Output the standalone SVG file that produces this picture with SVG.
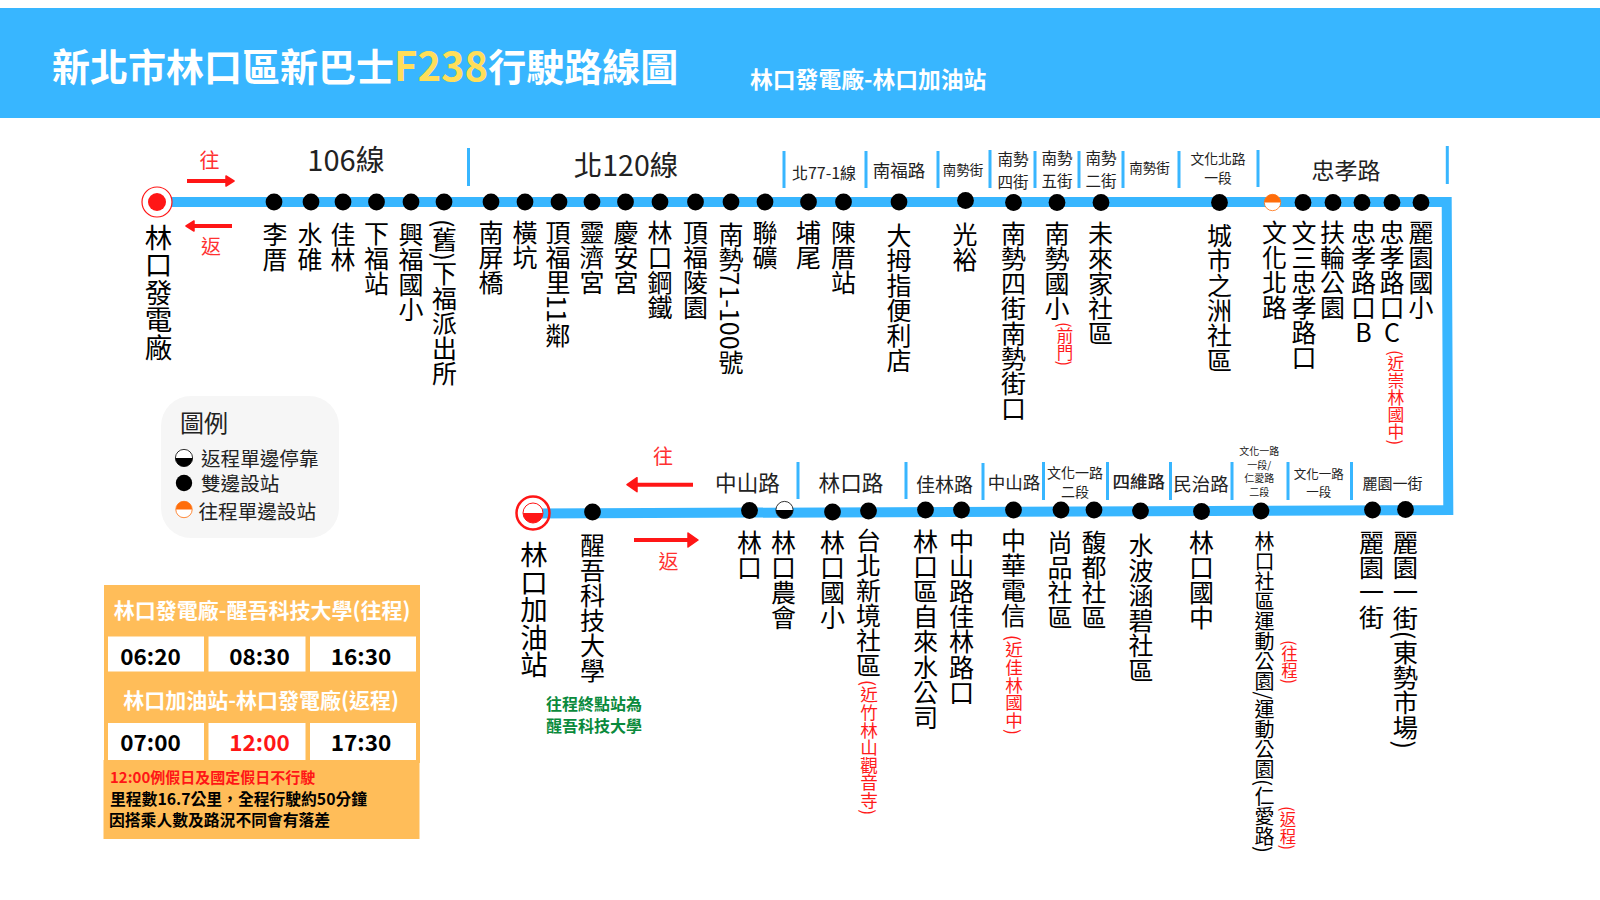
<svg xmlns="http://www.w3.org/2000/svg" width="1600" height="900" viewBox="0 0 1600 900">
<style>
text{font-family:"Noto Sans CJK TC","Noto Sans",sans-serif;fill:#000}
.stop{writing-mode:vertical-rl;font-size:25px}
.term{writing-mode:vertical-rl;font-size:27.500px}
.up{text-orientation:upright}
.note{writing-mode:vertical-rl;font-size:17.600px;fill:#ff1a1a}
.road{text-anchor:middle;fill:#222}
.sep{stroke:#38b6ff;stroke-width:3;fill:none}
.route{stroke:#38b6ff;stroke-width:10;fill:none;stroke-linejoin:miter}
.dot{fill:#000}
.dir{font-size:20px;fill:#ff3131;text-anchor:middle}
.arr{stroke:#ff1616;stroke-width:4;fill:none}
.leg{font-size:19.600px;fill:#222}
.hd{font-size:21px;font-weight:700;fill:#fff;text-anchor:middle}
.t{font-size:22.500px;font-weight:700;text-anchor:middle}
.cell{fill:#fff}
.info{font-weight:700;font-size:15.800px}
.g{font-size:16px;font-weight:700;fill:#0a8a3c;text-anchor:middle}
</style>
<defs>
<marker id="ah" viewBox="0 0 10 12" refX="1" refY="6" markerWidth="10" markerHeight="12" markerUnits="userSpaceOnUse" orient="auto"><path d="M1 1L9 6L1 11Z" fill="#ff1616" stroke="#ff1616" stroke-width="1.500" stroke-linejoin="round"/></marker>
<marker id="ahl" viewBox="0 0 12 16" refX="1" refY="8" markerWidth="12" markerHeight="16" markerUnits="userSpaceOnUse" orient="auto"><path d="M1 1L11 8L1 15Z" fill="#ff1616" stroke="#ff1616" stroke-width="1.500" stroke-linejoin="round"/></marker>
<g id="half-ret"><circle r="8.600" fill="#fff" stroke="#000" stroke-width="0.800"/><path d="M-8.600 0A8.600 8.600 0 0 0 8.600 0Z" fill="#000"/></g>
<g id="half-out"><circle r="8.200" fill="#fff" stroke="#ff6d0a" stroke-width="0.800"/><path d="M-8.200 0A8.200 8.200 0 0 1 8.200 0Z" fill="#ff6d0a"/></g>
</defs>
<rect x="0" y="8" width="1600" height="110" fill="#38b6ff"/>
<text x="52" y="81" font-size="38" font-weight="700" style="fill:#fff">新北市林口區新巴士<tspan style="fill:#ffde59;font-size:40px">F238</tspan>行駛路線圖</text>
<text x="750" y="87.500" font-size="22.800" font-weight="700" style="fill:#fff">林口發電廠-林口加油站</text>

<g id="connectors">
<path class="route" d="M157 202H1446.700L1448.300 510L534 513.500"/>
<path class="arr" d="M187 181H226" marker-end="url(#ah)"/>
<path class="arr" d="M232 226H194" marker-end="url(#ah)"/>
<path class="arr" d="M693 484.700H637" marker-end="url(#ahl)"/>
<path class="arr" d="M634 540H688" marker-end="url(#ahl)"/>
</g>

<g id="separators">
<path class="sep" d="M468.500 148V186M784 151V188M866 151V188M938 151V188M990 150V188M1035 151V188M1079 151V188M1123 151V188M1179 151V188M1258 150V187M1447.300 146V184"/>
<path class="sep" d="M798 462V499M906 462V499M983 463V500M1043.500 462V500M1107.500 462V500M1170.500 462V500M1232 462V500M1288 462V500M1351.500 462V500"/>
</g>

<g id="roads" class="roads">
<text class="road" x="346" y="171" font-size="29">106線</text>
<text class="road" x="626" y="176" font-size="28.500">北120線</text>
<text class="road" x="824" y="179" font-size="16">北77-1線</text>
<text class="road" x="899" y="177" font-size="17.500">南福路</text>
<text class="road" x="963" y="175" font-size="13.500">南勢街</text>
<text class="road" x="1013" y="165" font-size="15.500">南勢</text><text class="road" x="1013" y="188" font-size="15.500">四街</text>
<text class="road" x="1057" y="164" font-size="15.500">南勢</text><text class="road" x="1057" y="187" font-size="15.500">五街</text>
<text class="road" x="1101" y="164" font-size="15.500">南勢</text><text class="road" x="1101" y="187" font-size="15.500">二街</text>
<text class="road" x="1149.500" y="173" font-size="13.500">南勢街</text>
<text class="road" x="1218" y="164" font-size="13.800">文化北路</text><text class="road" x="1218" y="183" font-size="13.800">一段</text>
<text class="road" x="1346" y="179" font-size="23">忠孝路</text>
<text class="road" x="747.500" y="491" font-size="21.600">中山路</text>
<text class="road" x="851" y="491" font-size="21.600">林口路</text>
<text class="road" x="944.500" y="492" font-size="19">佳林路</text>
<text class="road" x="1014" y="489" font-size="17.500">中山路</text>
<text class="road" x="1075" y="478" font-size="14">文化一路</text><text class="road" x="1075" y="497" font-size="14">二段</text>
<text class="road" x="1138.700" y="488" font-size="17.500" font-weight="500">四維路</text>
<text class="road" x="1201" y="491" font-size="18.500">民治路</text>
<text class="road" x="1259.300" y="455" font-size="10">文化一路</text><text class="road" x="1259.300" y="469" font-size="10">一段/</text><text class="road" x="1259.300" y="482" font-size="10">仁愛路</text><text class="road" x="1259.300" y="496" font-size="10">二段</text>
<text class="road" x="1318.700" y="479" font-size="12.500">文化一路</text><text class="road" x="1318.700" y="497" font-size="12.500">一段</text>
<text class="road" x="1392.500" y="489" font-size="15">麗園一街</text>
</g>

<text class="dir" x="209.500" y="168">往</text>
<text class="dir" x="211" y="254">返</text>
<text class="dir" x="663" y="464">往</text>
<text class="dir" x="668.500" y="569">返</text>

<g id="node-linkou-power">
<circle cx="157" cy="202" r="15" fill="#fff" stroke="#ff1616" stroke-width="1.200"/><circle cx="157" cy="202" r="9" fill="#ff1616"/>
<text class="term" x="158.500" y="223.500">林口發電廠</text></g>
<g id="n1"><circle class="dot" cx="274" cy="202" r="8.400"/><text class="stop" x="275" y="222">李厝</text></g>
<g id="n2"><circle class="dot" cx="311" cy="202" r="8.400"/><text class="stop" x="310" y="222">水碓</text></g>
<g id="n3"><circle class="dot" cx="343" cy="202" r="8.400"/><text class="stop" x="343" y="222">佳林</text></g>
<g id="n4"><circle class="dot" cx="376.500" cy="202" r="8.400"/><text class="stop" x="376.500" y="221">下福站</text></g>
<g id="n5"><circle class="dot" cx="411" cy="202" r="8.400"/><text class="stop" x="411" y="222">興福國小</text></g>
<g id="n6"><circle class="dot" cx="444" cy="202" r="8.400"/><text class="stop" x="444.500" y="219">(舊)下福派出所</text></g>
<g id="n7"><circle class="dot" cx="491" cy="202" r="8.400"/><text class="stop" x="491" y="220">南屏橋</text></g>
<g id="n8"><circle class="dot" cx="525" cy="202" r="8.400"/><text class="stop" x="525" y="220">橫坑</text></g>
<g id="n9"><circle class="dot" cx="559" cy="202" r="8.400"/><text class="stop" x="558" y="220">頂福里11鄰</text></g>
<g id="n10"><circle class="dot" cx="592" cy="202" r="8.400"/><text class="stop" x="592" y="220">靈濟宮</text></g>
<g id="n11"><circle class="dot" cx="625.500" cy="202" r="8.400"/><text class="stop" x="626" y="220">慶安宮</text></g>
<g id="n12"><circle class="dot" cx="660" cy="202" r="8.400"/><text class="stop" x="660" y="220">林口鋼鐵</text></g>
<g id="n13"><circle class="dot" cx="695.500" cy="202" r="8.400"/><text class="stop" x="695.500" y="220">頂福陵園</text></g>
<g id="n14"><circle class="dot" cx="731" cy="202" r="8.400"/><text class="stop" x="731" y="221.500">南勢71-100號</text></g>
<g id="n15"><circle class="dot" cx="765" cy="202" r="8.400"/><text class="stop" x="765" y="220">聯礦</text></g>
<g id="n16"><circle class="dot" cx="808.500" cy="202" r="8.400"/><text class="stop" x="808.500" y="220">埔尾</text></g>
<g id="n17"><circle class="dot" cx="843.500" cy="202" r="8.400"/><text class="stop" x="843.500" y="220">陳厝站</text></g>
<g id="n18"><circle class="dot" cx="899" cy="202" r="8.400"/><text class="stop" x="899" y="222.500">大拇指便利店</text></g>
<g id="n19"><circle class="dot" cx="965.500" cy="200.500" r="8.400"/><text class="stop" x="965" y="221.500">光裕</text></g>
<g id="n20"><circle class="dot" cx="1013.500" cy="202.500" r="8.400"/><text class="stop" x="1013.500" y="221">南勢四街南勢街口</text></g>
<g id="n21"><circle class="dot" cx="1057" cy="202.500" r="8.400"/><text class="stop" x="1057" y="221">南勢國小</text><text class="note" x="1065" y="322" style="font-size:16.500px">(前門)</text></g>
<g id="n22"><circle class="dot" cx="1101" cy="202.500" r="8.400"/><text class="stop" x="1100.500" y="221">未來家社區</text></g>
<g id="n23"><circle class="dot" cx="1219.500" cy="202.500" r="8.400"/><text class="stop" x="1219.500" y="223">城市之洲社區</text></g>
<g id="n24"><use href="#half-out" x="1272.500" y="202.500"/><text class="stop" x="1274.500" y="220">文化北路</text></g>
<g id="n25"><circle class="dot" cx="1303" cy="202.500" r="8.400"/><text class="stop" x="1304" y="220">文三忠孝路口</text></g>
<g id="n26"><circle class="dot" cx="1333" cy="202.500" r="8.400"/><text class="stop" x="1332.500" y="220">扶輪公園</text></g>
<g id="n27"><circle class="dot" cx="1362" cy="202.500" r="8.400"/><text class="stop up" x="1363.500" y="220">忠孝路口B</text></g>
<g id="n28"><circle class="dot" cx="1392" cy="202.500" r="8.400"/><text class="stop up" x="1392" y="220">忠孝路口C</text><text class="note" x="1396" y="350" style="font-size:16.800px">(近崇林國中)</text></g>
<g id="n29"><circle class="dot" cx="1421" cy="202.500" r="8.400"/><text class="stop" x="1421" y="220">麗園國小</text></g>

<g id="n30"><circle class="dot" cx="1405.500" cy="509.500" r="8.400"/><text class="stop" x="1405.500" y="529.500" style="font-size:25.300px">麗園一街(東勢市場)</text></g>
<g id="n31"><circle class="dot" cx="1372.500" cy="510" r="8.400"/><text class="stop" x="1371.500" y="529.500">麗園一街</text></g>
<g id="n32"><circle class="dot" cx="1261" cy="511" r="8.400"/><text class="stop" x="1264.500" y="531.500" style="font-size:20px">林口社區運動公園/運動公園(仁愛路)</text><text class="note" x="1289.500" y="640" style="font-size:16.500px">(往程)</text><text class="note" x="1288" y="806" style="font-size:16.500px">(返程)</text></g>
<g id="n33"><circle class="dot" cx="1201.500" cy="511.500" r="8.400"/><text class="stop" x="1201.500" y="529.500">林口國中</text></g>
<g id="n34"><circle class="dot" cx="1140.500" cy="511" r="8.400"/><text class="stop" x="1141" y="533">水波涵碧社區</text></g>
<g id="n35"><circle class="dot" cx="1094" cy="510" r="8.400"/><text class="stop" x="1094" y="530">馥都社區</text></g>
<g id="n36"><circle class="dot" cx="1061" cy="510" r="8.400"/><text class="stop" x="1060" y="530">尚品社區</text></g>
<g id="n37"><circle class="dot" cx="1013.500" cy="510" r="8.400"/><text class="stop" x="1013.500" y="528">中華電信</text><text class="note" x="1014" y="635">(近佳林國中)</text></g>
<g id="n38"><circle class="dot" cx="961.500" cy="510" r="8.400"/><text class="stop" x="961.500" y="528.500" style="font-size:25.200px">中山路佳林路口</text></g>
<g id="n39"><circle class="dot" cx="925.500" cy="510" r="8.400"/><text class="stop" x="925.500" y="528.500" style="font-size:25.200px">林口區自來水公司</text></g>
<g id="n40"><circle class="dot" cx="868.500" cy="511" r="8.400"/><text class="stop" x="868.500" y="528">台北新境社區</text><text class="note" x="869" y="680">(近竹林山觀音寺)</text></g>
<g id="n41"><circle class="dot" cx="832.500" cy="512" r="8.400"/><text class="stop" x="832.500" y="529.500">林口國小</text></g>
<g id="n42"><use href="#half-ret" x="784.500" y="510"/><text class="stop" x="783.500" y="529.500">林口農會</text></g>
<g id="n43"><circle class="dot" cx="749.500" cy="510.500" r="8.400"/><text class="stop" x="749.500" y="529.500">林口</text></g>
<g id="n44"><circle class="dot" cx="592.500" cy="512" r="8.400"/><text class="stop" x="592.500" y="533">醒吾科技大學</text>
<text class="g" x="594" y="710">往程終點站為</text><text class="g" x="594" y="732">醒吾科技大學</text></g>
<g id="node-linkou-gas">
<circle cx="533" cy="513" r="16.500" fill="none" stroke="#ff1616" stroke-width="2.500"/>
<circle cx="533" cy="513" r="10" fill="#fff" stroke="#ff1616" stroke-width="1"/>
<path d="M523 513A10 10 0 0 0 543 513Z" fill="#ff1616"/>
<text class="term" x="534" y="541">林口加油站</text></g>

<g id="legend">
<rect x="161" y="396" width="178" height="142" rx="30" fill="#f6f6f6"/>
<text x="180" y="432" font-size="24" style="fill:#222">圖例</text>
<use href="#half-ret" x="184" y="458"/><text class="leg" x="201" y="466">返程單邊停靠</text>
<circle class="dot" cx="184" cy="483" r="8.200"/><text class="leg" x="201" y="491">雙邊設站</text>
<use href="#half-out" x="184" y="509.500"/><text class="leg" x="198.500" y="518.500">往程單邊設站</text>
</g>

<g id="timetable">
<rect x="104" y="585" width="316" height="178" fill="#ffbd59"/>
<rect x="103.500" y="760" width="316" height="79" fill="#ffbd59"/>
<text class="hd" x="262" y="617.500">林口發電廠-醒吾科技大學(往程)</text>
<rect class="cell" x="108" y="636.500" width="96" height="35"/><rect class="cell" x="208.500" y="636.500" width="97" height="35"/><rect class="cell" x="310" y="636.500" width="106" height="35"/>
<text class="t" x="150.500" y="664.500">06:20</text><text class="t" x="259.500" y="664.500">08:30</text><text class="t" x="361" y="664.500">16:30</text>
<text class="hd" x="261" y="708">林口加油站-林口發電廠(返程)</text>
<rect class="cell" x="108" y="723" width="96" height="37"/><rect class="cell" x="208.500" y="723" width="97" height="37"/><rect class="cell" x="310" y="723" width="106" height="37"/>
<text class="t" x="150.500" y="750.500">07:00</text><text class="t" x="259.500" y="750.500" style="fill:#ff1616">12:00</text><text class="t" x="361" y="750.500">17:30</text>
<text class="info" x="110" y="783" style="font-size:15px;fill:#ff1616">12:00例假日及國定假日不行駛</text>
<text class="info" x="110" y="804.500">里程數16.7公里&#xFF0C;全程行駛約50分鐘</text>
<text class="info" x="109" y="825.500">因搭乘人數及路況不同會有落差</text>
</g>
</svg>
